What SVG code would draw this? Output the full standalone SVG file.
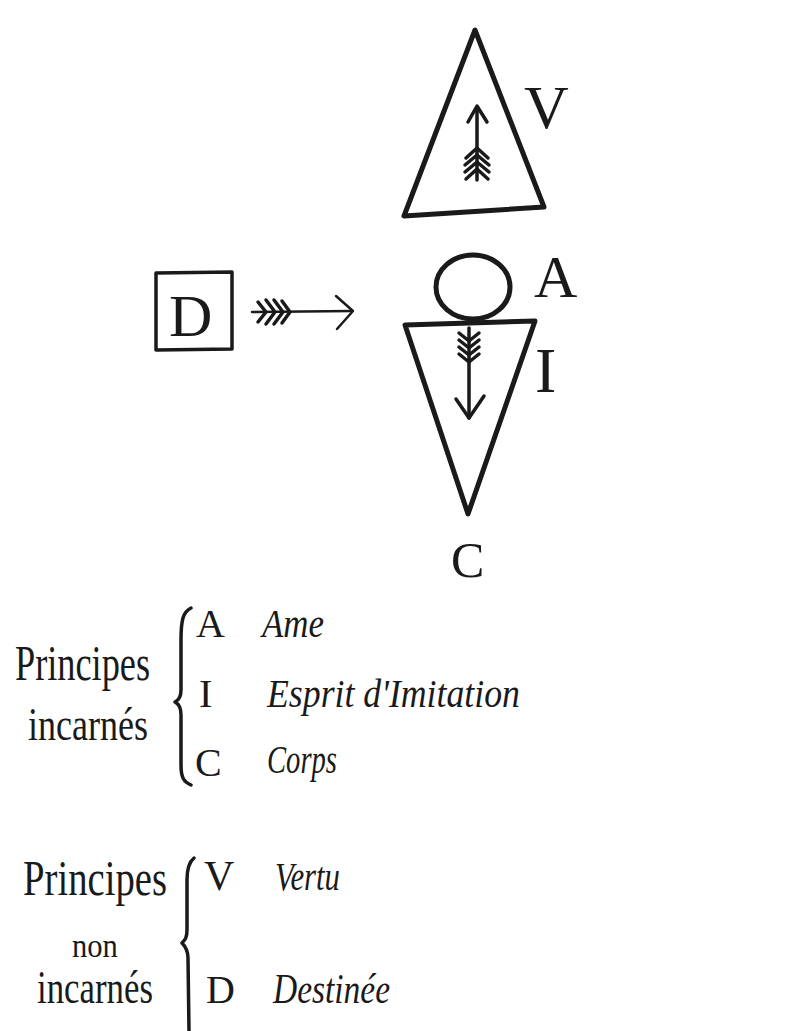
<svg xmlns="http://www.w3.org/2000/svg" width="811" height="1031" viewBox="0 0 811 1031">
<style>
.ink{fill:none;stroke:#1a1a1a;stroke-linecap:round;stroke-linejoin:round}
.thick{stroke-width:5}
.mid{stroke-width:3.5}
.thin{stroke-width:2.5}
.lbl{font-family:"Liberation Serif",serif;fill:#1a1a1a}
.hand{font-family:"Liberation Serif",serif;font-style:italic;fill:#1a1a1a}
</style>
<rect width="811" height="1031" fill="#ffffff"/>

<g id="node-V">
  <path class="ink thick" d="M475 30 L404 216 L544 207 Z"/>
  <line class="ink mid" x1="477" y1="108" x2="477" y2="180"/>
  <path class="ink mid" d="M468 122 L477 106 L487 122"/>
  <path class="ink mid" d="M466 158 L477 148 L488 158 M465 165 L477 155 L489 165 M465 172 L477 162 L489 172 M466 179 L477 169 L488 179"/>
  <text class="lbl" x="524" y="128" font-size="62">V</text>
</g>

<g id="node-D">
  <path class="ink mid" d="M156 273 L232 272 L232 349 L156 350 Z"/>
  <text class="lbl" x="169" y="336" font-size="60">D</text>
</g>

<g id="node-A">
  <ellipse class="ink thick" cx="473" cy="287" rx="37" ry="32"/>
  <text class="lbl" x="534" y="297" font-size="60">A</text>
</g>

<g id="node-I">
  <path class="ink thick" d="M405 325 L535 321 L468 514 Z"/>
  <text class="lbl" x="535" y="392" font-size="64">I</text>
</g>

<g id="node-C">
  <text class="lbl" x="451" y="577" font-size="50">C</text>
</g>

<g id="connectors">
  <line class="ink thin" x1="252" y1="312" x2="352" y2="311"/>
  <path class="ink thin" d="M336 296 L353 311 L337 329"/>
  <path class="ink mid" d="M258 302 L266 312 L258 322 M266 300 L275 312 L266 324 M274 300 L283 312 L274 324 M282 301 L290 312 L282 323"/>
  <line class="ink mid" x1="469" y1="328" x2="469" y2="418"/>
  <path class="ink mid" d="M456 399 L469 418 L484 396"/>
  <path class="ink mid" d="M459 333 L469 341 L479 333 M459 340 L469 348 L479 340 M459 347 L469 355 L479 347 M459 354 L469 362 L479 354"/>
</g>

<g id="legend-incarnes">
  <text class="lbl" font-size="50" transform="translate(15 680) scale(0.726 1)">Principes</text>
  <text class="lbl" font-size="46" transform="translate(28 740) scale(0.784 1)">incarnés</text>
  <path class="ink mid" d="M191 608 C183 612 181 620 181 640 L181 690 C181 697 179 700 175 702 C179 704 181 708 181 715 L181 765 C181 778 184 782 191 785"/>
  <text class="lbl" x="196" y="637" font-size="40">A</text>
  <text class="lbl" x="199" y="707" font-size="40">I</text>
  <text class="lbl" x="195" y="776" font-size="40">C</text>
  <text class="hand" x="262" y="637" font-size="40" textLength="62" lengthAdjust="spacingAndGlyphs">Ame</text>
  <text class="hand" x="267" y="707" font-size="40" textLength="253" lengthAdjust="spacingAndGlyphs">Esprit d'Imitation</text>
  <text class="hand" x="267" y="773" font-size="40" textLength="70" lengthAdjust="spacingAndGlyphs">Corps</text>
</g>

<g id="legend-non-incarnes">
  <text class="lbl" font-size="50" transform="translate(23 895) scale(0.774 1)">Principes</text>
  <text class="lbl" font-size="34" transform="translate(72 957) scale(0.9 1)">non</text>
  <text class="lbl" font-size="46" transform="translate(37 1003) scale(0.757 1)">incarnés</text>
  <path class="ink mid" d="M194 858 C189 862 187 868 187 880 L187 930 C187 938 185 940 182 943 C185 946 188 950 188 958 L189 1031"/>
  <text class="lbl" x="204" y="890" font-size="42">V</text>
  <text class="lbl" x="206" y="1003" font-size="40">D</text>
  <text class="hand" x="275" y="890" font-size="40" textLength="65" lengthAdjust="spacingAndGlyphs">Vertu</text>
  <text class="hand" x="273" y="1003" font-size="42" textLength="117" lengthAdjust="spacingAndGlyphs">Destinée</text>
</g>
</svg>
